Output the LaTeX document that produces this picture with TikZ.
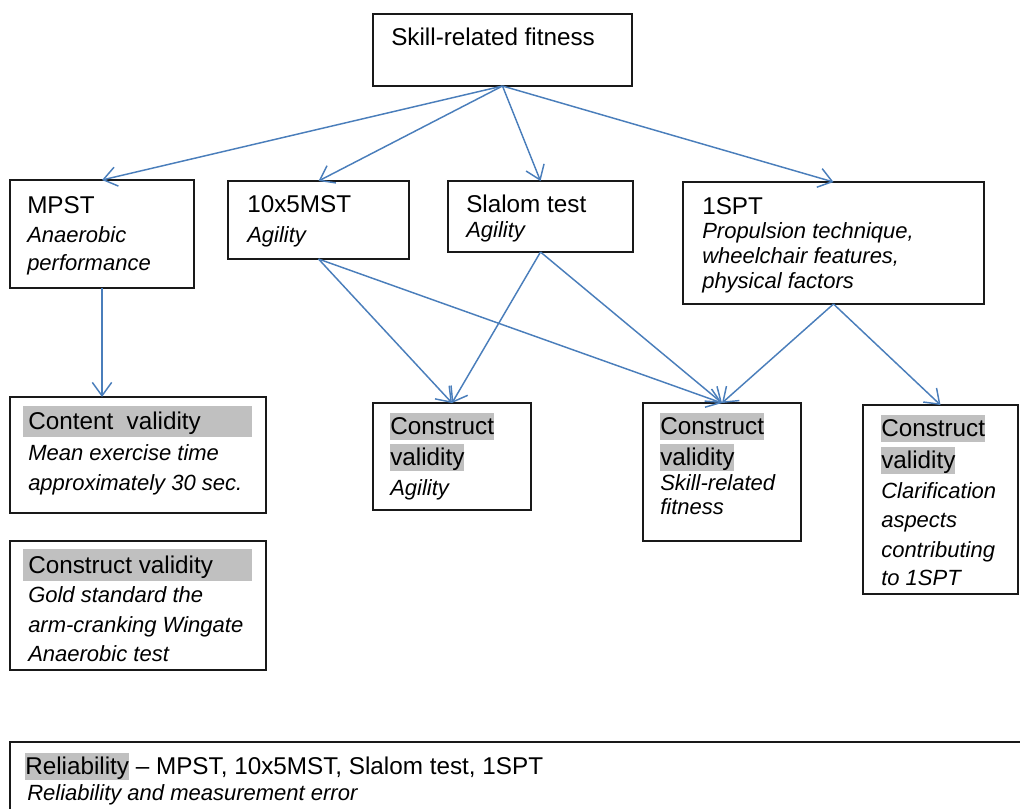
\documentclass[tikz,border=0pt]{standalone}
\usepackage{fontspec}
\setmainfont{Liberation Sans}
\usetikzlibrary{arrows.meta,fit}
\definecolor{arrowblue}{HTML}{4A7EBB}
\definecolor{hlgray}{HTML}{C0C0C0}
\newcommand\hlword[1]{{\setlength{\fboxsep}{0pt}\colorbox{hlgray}{\rule[-4.8pt]{0pt}{20.6pt}#1}}}
\begin{document}
\begin{tikzpicture}[x=0.75pt,y=-0.75pt,
 boxnode/.style={draw=black!90, line width=1.1pt, inner sep=0pt, outer sep=0pt},
 barnode/.style={fill=hlgray, draw=none, inner sep=0pt, outer sep=0pt},
 rmtext/.style={font=\fontsize{18.2}{22}\selectfont, inner sep=0pt, anchor=base west},
 ittext/.style={font=\fontsize{16.5}{20}\selectfont\itshape, inner sep=0pt, anchor=base west},
 conn/.style={draw=arrowblue, line width=1.1pt, -{Straight Barb[length=10pt,width=14.5pt]}}]
\useasboundingbox (0,0) rectangle (1020,808);

% boxes
\node[boxnode, fit={(373,14) (632,86)}] (top) {};
\node[boxnode, fit={(10,180) (194,288)}] (mpst) {};
\node[boxnode, fit={(228,181) (409,259)}] (tenx) {};
\node[boxnode, fit={(448,181) (633,252)}] (slalom) {};
\node[boxnode, fit={(683,182) (984,304)}] (ospt) {};
\node[boxnode, fit={(10,397) (266,513)}] (content) {};
\node[boxnode, fit={(10,541) (266,670)}] (cleft) {};
\node[boxnode, fit={(373,403) (531,510)}] (cagil) {};
\node[boxnode, fit={(643,403) (801,541)}] (cskill) {};
\node[boxnode, fit={(863,405) (1018,594)}] (cright) {};
\node[boxnode, fit={(10,742) (1040,830)}] (rel) {};

% highlight bars
\node[barnode, fit={(23,406) (252,437)}] (contentbar) {};
\node[barnode, fit={(23,549) (252,581)}] (cleftbar) {};

% texts
\node[rmtext] (topT) at (391,45) {Skill-related fitness};

\node[rmtext] (mpstT) at (27,213) {MPST};
\node[ittext] (mpstA) at (27,242) {Anaerobic};
\node[ittext] (mpstB) at (27,270) {performance};

\node[rmtext] (tenxT) at (247,212) {10x5MST};
\node[ittext] (tenxA) at (247,242) {Agility};

\node[rmtext] (slalomT) at (466,212) {Slalom test};
\node[ittext] (slalomA) at (466,237) {Agility};

\node[rmtext] (osptT) at (702,214) {1SPT};
\node[ittext] (osptA) at (702,238) {Propulsion technique,};
\node[ittext] (osptB) at (702,263) {wheelchair features,};
\node[ittext] (osptC) at (702,288) {physical factors};

\node[rmtext] (contentT) at (28,429) {Content~~validity};
\node[ittext] (contentA) at (28,460) {Mean exercise time};
\node[ittext] (contentB) at (28,490) {approximately 30 sec.};

\node[rmtext] (cleftT) at (28,573) {Construct validity};
\node[ittext] (cleftA) at (28,602) {Gold standard the};
\node[ittext] (cleftB) at (28,632) {arm-cranking Wingate};
\node[ittext] (cleftC) at (28,661) {Anaerobic test};

\node[rmtext] (cagilT) at (390,434) {\hlword{Construct}};
\node[rmtext] (cagilU) at (390,465) {\hlword{validity}};
\node[ittext] (cagilA) at (390,495) {Agility};

\node[rmtext] (cskillT) at (660,434) {\hlword{Construct}};
\node[rmtext] (cskillU) at (660,465) {\hlword{validity}};
\node[ittext] (cskillA) at (660,490) {Skill-related};
\node[ittext] (cskillB) at (660,514) {fitness};

\node[rmtext] (crightT) at (881,436) {\hlword{Construct}};
\node[rmtext] (crightU) at (881,468) {\hlword{validity}};
\node[ittext] (crightA) at (881,498) {Clarification};
\node[ittext] (crightB) at (881,527) {aspects};
\node[ittext] (crightC) at (881,557) {contributing};
\node[ittext] (crightD) at (881,585) {to 1SPT};

\node[rmtext] (relT) at (25,774) {\hlword{Reliability} -- MPST, 10x5MST, Slalom test, 1SPT};
\node[ittext] (relA) at (27,800) {Reliability and measurement error};

% connectors
\draw[conn] (top.south) -- (mpst.north);
\draw[conn] (top.south) -- (tenx.north);
\draw[conn] (top.south) -- (slalom.north);
\draw[conn] (top.south) -- (ospt.north);
\draw[conn] (mpst.south) -- (mpst.south |- content.north);
\draw[conn] (tenx.south) -- (cagil.north);
\draw[conn] (tenx.south) -- (cskill.north);
\draw[conn] (slalom.south) -- (cagil.north);
\draw[conn] (slalom.south) -- (cskill.north);
\draw[conn] (ospt.south) -- (cskill.north);
\draw[conn] (ospt.south) -- (cright.north);
\end{tikzpicture}
\end{document}
